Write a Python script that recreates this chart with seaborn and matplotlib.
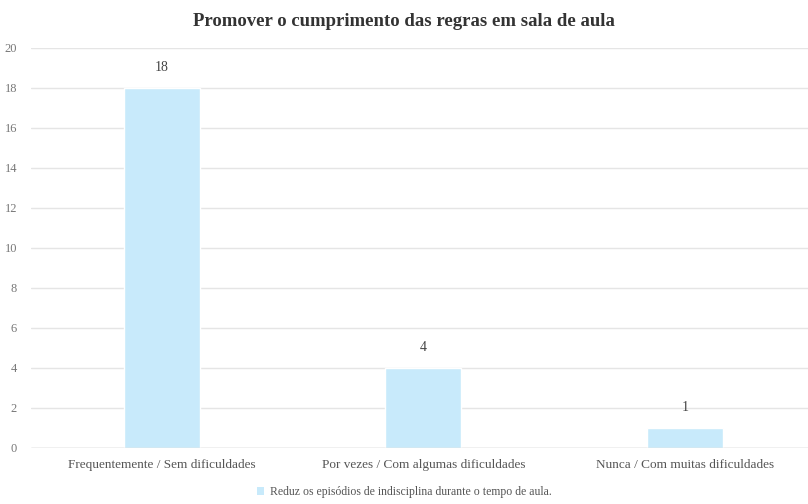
import matplotlib
matplotlib.use("Agg")
import matplotlib.pyplot as plt
import seaborn as sns
import pandas as pd
from matplotlib.patches import Patch

categories = ["Frequentemente / Sem dificuldades", "Por vezes / Com algumas dificuldades",
              "Nunca / Com muitas dificuldades"]
values = [18, 4, 1]
series_name = "Reduz os episódios de indisciplina durante o tempo de aula."
title = "Promover o cumprimento das regras em sala de aula"

sns.set_style("white")
plt.rcParams['font.family'] = ['Liberation Serif', 'DejaVu Serif']

df = pd.DataFrame({"cat": categories, "val": values})
bar_color = "#c8eafb"

fig = plt.figure(figsize=(8.08, 5.04), dpi=100)
ax = fig.add_axes([31 / 808, 1 - 448 / 504, (808 - 31) / 808, 400 / 504])
sns.barplot(data=df, x="cat", y="val", color=bar_color, width=0.29, ax=ax,
            saturation=1, zorder=3)

ax.set_ylim(0, 20)
ax.set_xlim(-0.5, 2.47)
ax.set_yticks(range(0, 21, 2))
ax.yaxis.grid(True, color="#e5e5e5", linewidth=1, zorder=0)
ax.set_axisbelow(True)
for s in ax.spines.values():
    s.set_visible(False)
ax.axhline(0, color="#d0d0d0", linewidth=1, zorder=4)
ax.set_xlabel("")
ax.set_ylabel("")
ax.tick_params(axis="y", length=0, pad=10, labelsize=9, labelcolor="#777777")
ax.tick_params(axis="x", length=0, pad=8, labelsize=9.5, labelcolor="#555555")

for i, v in enumerate(values):
    ax.text(i, v + 0.7, str(v), ha="center", va="bottom", fontsize=10, color="#444444")

fig.suptitle(title, x=0.5, y=0.975, fontsize=13.5, fontweight="bold", color="#333333")

handles = [Patch(facecolor=bar_color, edgecolor="none", label=series_name)]
fig.legend(handles=handles, loc="center", bbox_to_anchor=(0.5, 1 - 492 / 504), frameon=False,
           fontsize=8.5, handlelength=0.6, handleheight=0.6, handletextpad=0.5,
           labelcolor="#555555")

fig.savefig("out.png", dpi=100)
